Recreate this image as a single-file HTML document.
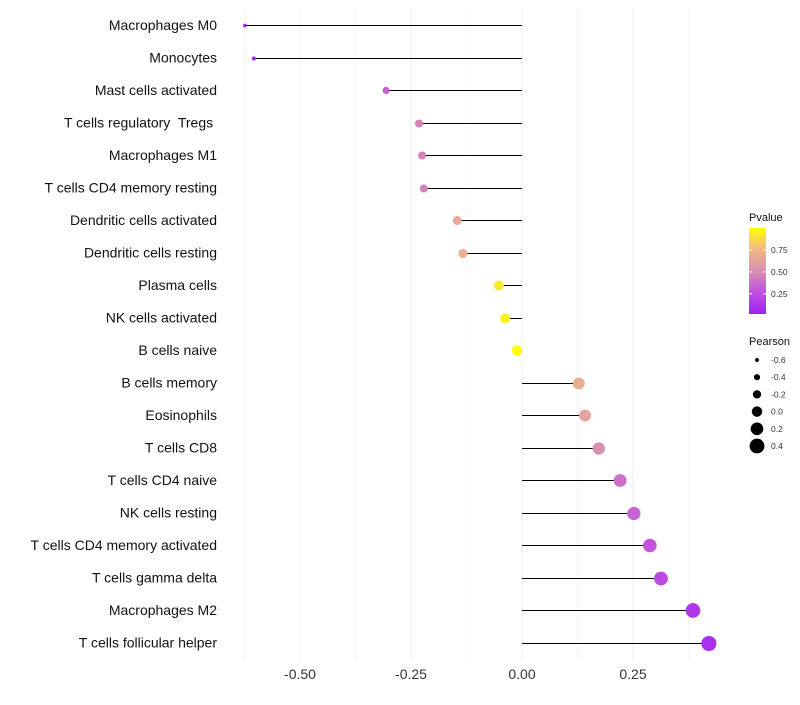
<!DOCTYPE html>
<html><head><meta charset="utf-8"><style>
body{margin:0;background:#fff;font-family:"Liberation Sans",sans-serif}
text{white-space:pre}
</style></head><body>
<svg id="c" width="800" height="700" xmlns="http://www.w3.org/2000/svg">
<defs><linearGradient id="pg" x1="0" y1="1" x2="0" y2="0">
<stop offset="0" stop-color="#a020f0"/><stop offset="0.25" stop-color="#c050e0"/><stop offset="0.5" stop-color="#d890b0"/><stop offset="0.75" stop-color="#f0b888"/><stop offset="1" stop-color="#ffff00"/></linearGradient></defs>
</svg>
<script>
const categories=["Macrophages M0","Monocytes","Mast cells activated","T cells regulatory  Tregs ","Macrophages M1","T cells CD4 memory resting","Dendritic cells activated","Dendritic cells resting","Plasma cells","NK cells activated","B cells naive","B cells memory","Eosinophils","T cells CD8","T cells CD4 naive","NK cells resting","T cells CD4 memory activated","T cells gamma delta","Macrophages M2","T cells follicular helper"];
const pearson=[-0.624,-0.604,-0.306,-0.232,-0.225,-0.221,-0.146,-0.133,-0.052,-0.038,-0.011,0.128,0.142,0.173,0.221,0.252,0.288,0.313,0.385,0.421];
const pvalue=[0.0,0.02,0.3,0.45,0.45,0.45,0.65,0.7,0.92,0.95,1.0,0.68,0.62,0.5,0.38,0.32,0.27,0.22,0.12,0.08];
const xTicks=[-0.5,-0.25,0,0.25];
const xTickLabels=["-0.50","-0.25","0.00","0.25"];
const legendTicks=[0.25,0.5,0.75];
const sizeTicks=[-0.6,-0.4,-0.2,0.0,0.2,0.4];
const NS="http://www.w3.org/2000/svg";
const svg=document.getElementById('c');
const x=v=>522+v*444;
const y=i=>25+i*32.5;
const r=p=>2+(p+0.6)*5.4;
const stops=[[0,[160,32,240]],[0.25,[192,80,224]],[0.5,[216,144,176]],[0.75,[240,184,136]],[1,[255,255,0]]];
function col(p){for(let k=0;k<stops.length-1;k++){const[a,ca]=stops[k],[b,cb]=stops[k+1];if(p<=b){const t=(p-a)/(b-a);return`rgb(${ca.map((c,j)=>Math.round(c+(cb[j]-c)*t)).join(',')})`;}}return'rgb(255,255,0)';}
function mk(t,a,parent){const e=document.createElementNS(NS,t);for(const k in a)e.setAttribute(k,a[k]);(parent||svg).appendChild(e);return e;}
[-0.625,-0.375,-0.125,0.125,0.375].forEach(v=>{const g=mk('line',{x1:x(v),x2:x(v),y1:8,y2:660,stroke:'#f7f7f7','stroke-width':1});});
xTicks.forEach((v,i)=>{const g=mk('line',{x1:x(v),x2:x(v),y1:8,y2:660,stroke:'#efefef','stroke-width':1});
const t=mk('text',{x:x(v),y:679,'text-anchor':'middle','font-size':14,fill:'#333'});t.textContent=xTickLabels[i];});
categories.forEach((c,i)=>{
const yy=Math.round(y(i))+0.5;
const l=mk('line',{x1:x(0),x2:x(pearson[i]),y1:yy,y2:yy,stroke:'#000','stroke-width':1});
const d=mk('circle',{cx:x(pearson[i]),cy:yy,r:r(pearson[i]),fill:col(pvalue[i])});
const t=mk('text',{x:217,y:y(i)+5,'text-anchor':'end','font-size':14,fill:'#111'});t.textContent=c;});
let t=mk('text',{x:749,y:221,'font-size':11,fill:'#111'});t.textContent='Pvalue';
const cb=mk('rect',{x:749,y:228,width:17,height:86,fill:'url(#pg)'});
const py=p=>314-(p-0.02)/0.98*86;
legendTicks.forEach(v=>{const tl=mk('text',{x:771,y:py(v)+3,'font-size':8.5,fill:'#333'});tl.textContent=v.toFixed(2);
[[749,752],[763,766]].forEach(([a,b])=>{const m=mk('line',{x1:a,x2:b,y1:py(v),y2:py(v),stroke:'#fff','stroke-width':1});});});
t=mk('text',{x:749,y:345,'font-size':11,fill:'#111'});t.textContent='Pearson';
sizeTicks.forEach((v,i)=>{const cy=360+i*17.2;const c=mk('circle',{cx:757,cy:cy,r:r(v),fill:'#000'});
const tl=mk('text',{x:771,y:cy+3,'font-size':8.5,fill:'#333'});tl.textContent=v.toFixed(1);});
</script>
</body></html>
